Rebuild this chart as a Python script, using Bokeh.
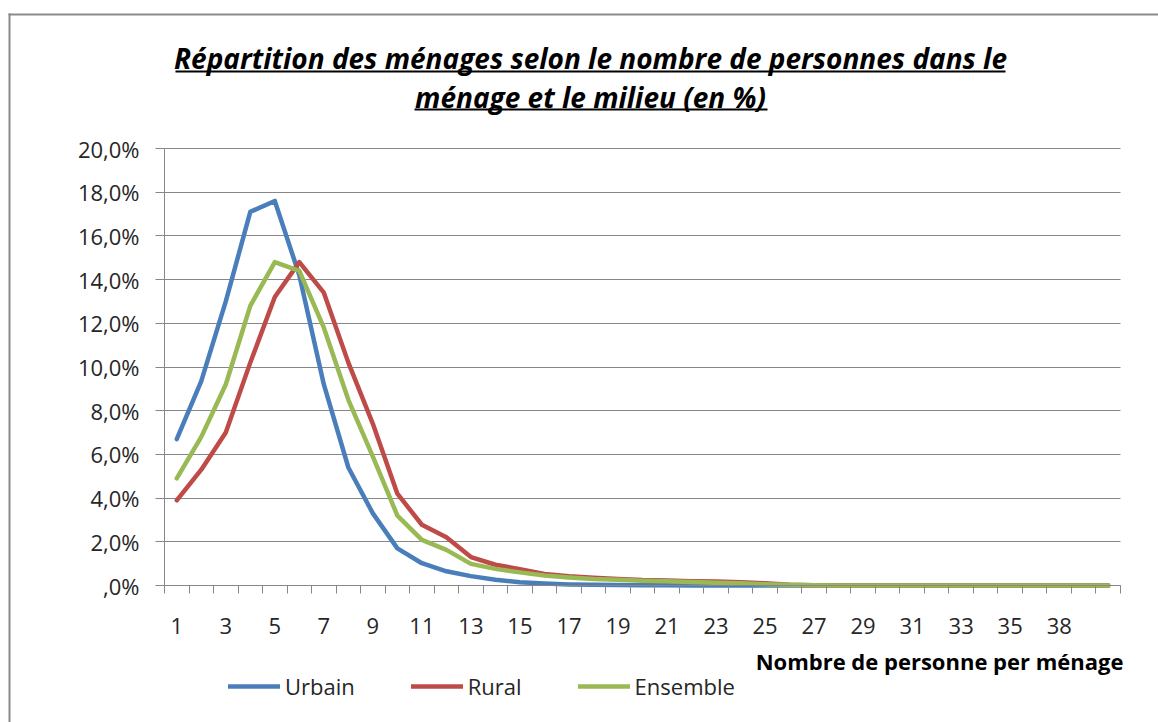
from bokeh.plotting import figure
from bokeh.models import Range1d, FixedTicker, Label, BoxAnnotation, Legend, LegendItem, Grid
from bokeh.embed import file_html
from bokeh.resources import INLINE

# ---------------- data ----------------
categories = ["1", "2", "3", "4", "5", "6", "7", "8", "9", "10",
              "11", "12", "13", "14", "15", "16", "17", "18", "19", "20",
              "21", "22", "23", "24", "25", "26", "27", "28", "29", "30",
              "31", "32", "33", "34", "35", "36", "38", "40", ""]

urbain = [6.7, 9.35, 13.0, 17.1, 17.6, 14.2, 9.2, 5.4, 3.3, 1.7,
          1.02, 0.65, 0.43, 0.26, 0.15, 0.09, 0.05, 0.03, 0.02, 0.01,
          0.01, 0.0, 0.0, 0.0, 0.0, 0.0, 0.0, 0.0, 0.0, 0.0,
          0.0, 0.0, 0.0, 0.0, 0.0, 0.0, 0.0, 0.0, 0.0]

rural = [3.9, 5.3, 7.0, 10.2, 13.2, 14.8, 13.4, 10.2, 7.4, 4.2,
         2.78, 2.21, 1.3, 0.95, 0.75, 0.53, 0.42, 0.36, 0.3, 0.25,
         0.23, 0.2, 0.18, 0.15, 0.1, 0.04, 0.01, 0.0, 0.0, 0.0,
         0.0, 0.0, 0.0, 0.0, 0.0, 0.0, 0.0, 0.0, 0.0]

ensemble = [4.9, 6.8, 9.2, 12.8, 14.8, 14.4, 11.8, 8.5, 5.9, 3.2,
            2.09, 1.63, 0.99, 0.76, 0.6, 0.46, 0.37, 0.3, 0.26, 0.22,
            0.19, 0.16, 0.13, 0.1, 0.06, 0.03, 0.01, 0.0, 0.0, 0.0,
            0.0, 0.0, 0.0, 0.0, 0.0, 0.0, 0.0, 0.0, 0.0]

series_names = ["Urbain", "Rural", "Ensemble"]
series_colors = ["#4A7EBB", "#BE4B48", "#98B954"]

y_ticks = [0, 2, 4, 6, 8, 10, 12, 14, 16, 18, 20]
y_tick_labels = [",0%", "2,0%", "4,0%", "6,0%", "8,0%", "10,0%",
                 "12,0%", "14,0%", "16,0%", "18,0%", "20,0%"]

title_line1 = "Répartition des ménages selon le nombre de personnes dans le"
title_line2 = "ménage et le milieu (en %)"
x_title = "Nombre de personne per ménage"

# ---------------- layout (pixels) ----------------
W, H = 1158, 722
PL, PR, PT, PB = 164, 1120, 148, 585        # plot-area edges on the canvas
FONT = "Open Sans"
GRID = "#878787"
BORDER = "#8a8a8a"

n = len(categories)
x0, x1 = -0.5, n - 0.5
y0, y1 = y_ticks[0], y_ticks[-1]
sx = (PR - PL) / (x1 - x0)
sy = (PB - PT) / (y1 - y0)
xr = Range1d(x0 - PL / sx, x1 + (W - PR) / sx)
yr = Range1d(y0 - (H - PB) / sy, y1 + PT / sy)


def px_to_x(px):
    return x0 + (px - PL) / sx


def py_to_y(py):
    return y0 + (PB - py) / sy


p = figure(width=W, height=H, min_border=0, x_range=xr, y_range=yr,
           output_backend="svg", toolbar_location=None)
p.outline_line_color = None
p.background_fill_color = "white"
p.border_fill_color = "white"

xs = list(range(n))

# x axis: labels on every other category, tick marks between categories
label_idx = [i for i in range(0, n, 2) if categories[i] != ""]
xa = p.xaxis[0]
xa.fixed_location = y0
xa.bounds = (x0, x1)
xa.ticker = FixedTicker(ticks=label_idx, minor_ticks=[i - 0.5 for i in range(n + 1)])
xa.major_label_overrides = {i: categories[i] for i in label_idx}
xa.major_tick_out = 0
xa.major_tick_in = 0
xa.minor_tick_out = 8
xa.minor_tick_in = 0
xa.minor_tick_line_color = GRID
xa.axis_line_color = GRID
xa.major_label_standoff = 24
xa.major_label_text_font = FONT
xa.major_label_text_font_size = "22px"
xa.major_label_text_color = "#262626"

ya = p.yaxis[0]
ya.fixed_location = x0
ya.bounds = (y0, y1)
ya.ticker = FixedTicker(ticks=y_ticks)
ya.major_label_overrides = dict(zip(y_ticks, y_tick_labels))
ya.major_tick_out = 9
ya.major_tick_in = 0
ya.minor_tick_out = 0
ya.minor_tick_in = 0
ya.major_tick_line_color = GRID
ya.axis_line_color = GRID
ya.major_label_standoff = 16
ya.major_label_text_font = FONT
ya.major_label_text_font_size = "22px"
ya.major_label_text_color = "#262626"

p.xgrid.visible = False
yg = p.ygrid[0]
yg.ticker = FixedTicker(ticks=y_ticks)
yg.grid_line_color = GRID
yg.grid_line_width = 1
try:
    yg.cross_bounds = (x0, x1)
except Exception:
    yg.visible = False
    p.segment(x0=[x0] * len(y_ticks), x1=[x1] * len(y_ticks), y0=y_ticks, y1=y_ticks,
              line_color=GRID, line_width=1)

# outer chart border (top and left edges), drawn as single grid lines
top_y = py_to_y(14)
left_x = px_to_x(9)
try:
    g_top = Grid(dimension=1, ticker=FixedTicker(ticks=[top_y]),
                 bounds=(yr.start, yr.end), cross_bounds=(px_to_x(8), xr.end),
                 grid_line_color=BORDER, grid_line_width=2)
    g_left = Grid(dimension=0, ticker=FixedTicker(ticks=[left_x]),
                  bounds=(xr.start, xr.end), cross_bounds=(yr.start, py_to_y(13)),
                  grid_line_color=BORDER, grid_line_width=2)
    p.add_layout(g_top)
    p.add_layout(g_left)
except Exception:
    p.segment(x0=[px_to_x(8), left_x], x1=[xr.end, left_x],
              y0=[top_y, yr.start], y1=[top_y, py_to_y(13)],
              line_color=BORDER, line_width=2)

renderers = []
for vals, color in zip([urbain, rural, ensemble], series_colors):
    r = p.line(xs, vals, line_color=color, line_width=4.5,
               line_join="round", line_cap="round")
    renderers.append(r)

legend = Legend(items=[LegendItem(label=nm, renderers=[r])
                       for nm, r in zip(series_names, renderers)],
                orientation="horizontal", location=(228, H - 688 - 13),
                padding=0, margin=0, spacing=56,
                glyph_width=52, glyph_height=26, label_height=26,
                label_standoff=5, label_text_font=FONT,
                label_text_font_size="22px", label_text_color="#262626",
                border_line_color=None, background_fill_alpha=0)
p.add_layout(legend)


def box(l, r, t, b, color):
    p.add_layout(BoxAnnotation(left=l, right=r, top=H - t, bottom=H - b,
                               left_units="screen", right_units="screen",
                               bottom_units="screen", top_units="screen",
                               fill_color=color, fill_alpha=1,
                               line_color=None, line_alpha=0, line_width=0))


# title underlines
box(175, 1005, 70, 72, "black")
box(414, 767, 108, 110, "black")

# titles
for txt, ty in [(title_line1, 57), (title_line2, 96)]:
    p.add_layout(Label(x=590, y=H - ty, x_units="screen", y_units="screen",
                       text=txt, text_align="center", text_baseline="middle",
                       text_font=FONT, text_font_style="bold italic",
                       text_font_size="28px", text_color="black"))

p.add_layout(Label(x=1123, y=H - 660, x_units="screen", y_units="screen",
                   text=x_title, text_align="right", text_baseline="middle",
                   text_font=FONT, text_font_style="bold",
                   text_font_size="22px", text_color="black"))

open("out.html", "w").write(file_html(p, INLINE))
